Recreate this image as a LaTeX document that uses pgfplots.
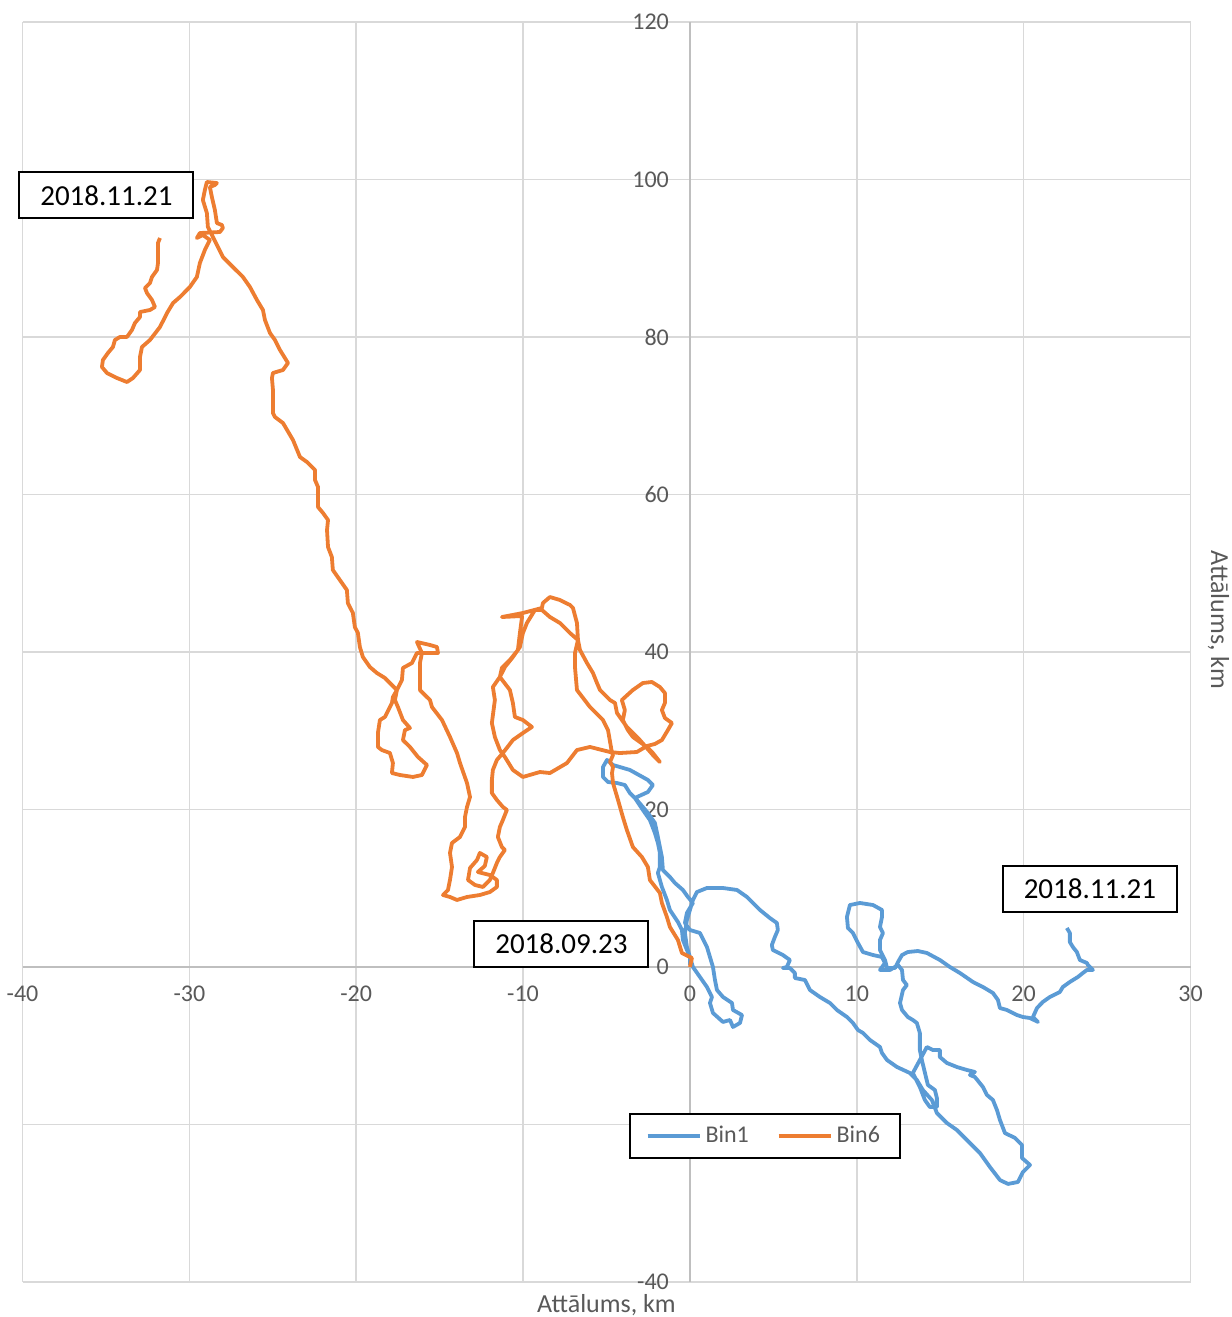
\documentclass[border=0pt]{standalone}
\usepackage{fontspec}
\setmainfont{Carlito}
\usepackage{pgfplots}
\pgfplotsset{compat=1.18}

\definecolor{binblue}{HTML}{5B9BD5}
\definecolor{binorange}{HTML}{ED7D31}
\definecolor{gridgray}{HTML}{D9D9D9}
\definecolor{axisgray}{HTML}{BFBFBF}
\definecolor{labgray}{HTML}{595959}

\begin{document}
\begin{tikzpicture}
\begin{axis}[
    name=ax,
    scale only axis,
    width=584pt, height=630pt,
    xmin=-40, xmax=30, ymin=-40, ymax=120,
    axis lines=middle,
    hide obscured x ticks=false, hide obscured y ticks=false,
    xtick={-40,-30,...,30}, ytick={-40,-20,...,120},
    grid=major,
    grid style={draw=gridgray, line width=0.8pt},
    major tick length=0pt,
    axis line style={draw=axisgray, line width=1pt, -},
    every inner x axis line/.append style={-},
    every inner y axis line/.append style={-},
    /pgf/number format/assume math mode=true,
    tick label style={font=\fontsize{12}{14}\selectfont, text=labgray},
    xticklabel style={yshift=-6pt},
    yticklabel style={xshift=-7pt},
    legend style={at={(axis cs:4.49,-21.46)}, anchor=center, draw=black, line width=1pt,
        fill=white, font=\fontsize{12}{14}\selectfont, text=labgray,
        inner xsep=8pt, inner ysep=4pt,
        /tikz/every even column/.append style={column sep=12pt}},
    legend columns=2,
    legend image code/.code={\draw[#1] (0pt,0pt) -- (26pt,0pt);},
    every axis plot/.append style={line width=1.9pt, line join=round},
]
% Bin1
\addplot[binblue] coordinates {
(0,0.25) (0,1.27) (-0.18,2.16) (-0.42,3.43) (-0.48,4.70) (-0.72,5.71) (-1.20,7.24) (-1.38,8.51)
(-1.68,10.16) (-1.92,11.94) (-1.80,12.70) (-1.80,14.48) (-1.92,15.75) (-2.10,17.02) (-2.40,18.67)
(-2.82,19.94) (-3.30,21.46) (-2.52,22.22) (-2.22,23.11) (-2.52,23.75) (-3.60,25.02) (-4.61,25.65)
(-4.97,26.29) (-5.21,25.40) (-5.21,24.13) (-4.91,23.49) (-4.37,23.36) (-3.90,23.11) (-3.60,22.09)
(-3.18,21.21) (-2.52,19.56) (-2.10,18.29) (-1.92,16.51) (-1.80,15.24) (-1.68,13.97) (-1.62,12.32)
(-1.20,11.43) (-0.90,10.67) (-0.42,9.78) (-0.12,8.89) (0.18,8.13) (-0.18,6.86) (-0.30,5.59)
(0,4.70) (0.60,4.32) (1.02,2.54) (1.20,1.27) (1.38,0) (1.50,-1.65) (1.62,-2.92) (1.98,-3.81)
(2.52,-4.57) (2.58,-5.46) (3.12,-6.10) (3.00,-7.11) (2.58,-7.62) (2.40,-6.73) (1.98,-6.98)
(1.38,-5.84) (1.20,-4.57) (1.32,-3.81) (1.02,-2.54) (0.60,-1.27) (0.18,0) (0,1.27) (-0.18,2.54)
(-0.30,4.32) (-0.18,5.97) (0,7.24) (0.18,8.51) (0.42,9.52) (1.02,10.03) (1.98,10.03) (2.82,9.78)
(3.42,8.89) (4.20,7.24) (4.79,6.22) (5.21,5.59) (5.27,4.70) (5.09,3.81) (4.91,2.79) (4.97,2.16)
(5.57,1.52) (5.99,0.89) (5.81,0) (5.57,-0.13) (5.99,-0.13) (6.29,-0.76) (6.29,-1.40) (6.89,-1.65)
(7.19,-2.92) (7.79,-3.81) (8.39,-4.57) (8.81,-5.46) (9.41,-6.35) (9.77,-7.11) (10.07,-8.00)
(10.37,-8.38) (10.79,-9.27) (11.39,-10.16) (11.51,-10.92) (11.81,-11.81) (12.41,-12.70)
(13.18,-13.46) (13.60,-14.35) (13.96,-15.62) (14.50,-16.89) (14.80,-18.54) (15.40,-19.81)
(16.00,-20.70) (16.60,-21.97) (17.38,-23.62) (17.98,-25.40) (18.58,-27.05) (19.06,-27.55)
(19.66,-27.30) (19.96,-26.03) (20.38,-25.14) (19.90,-24.25) (19.90,-22.60) (19.48,-21.71)
(18.88,-21.08) (18.58,-19.43) (18.40,-18.16) (18.16,-16.89) (17.80,-16.25) (17.56,-15.24)
(17.08,-13.97) (16.78,-13.71) (17.08,-13.33) (16.60,-13.08) (16.00,-12.70) (15.40,-12.19)
(14.98,-11.43) (14.98,-10.54) (14.56,-10.54) (14.20,-10.16) (13.78,-11.81) (13.36,-13.46)
(13.78,-15.24) (14.08,-16.89) (14.38,-17.78) (14.80,-17.78) (14.80,-16.63) (14.68,-15.62)
(14.26,-14.98) (13.90,-11.81) (13.78,-10.54) (13.78,-9.65) (13.78,-8.38) (13.60,-7.11)
(13.36,-6.73) (13.06,-6.35) (12.71,-5.46) (12.59,-4.57) (12.77,-2.92) (13.00,-2.29) (12.77,-1.65)
(12.71,-0.38) (12.47,0.25) (11.99,-0.38) (11.39,-0.38) (11.69,0.51) (11.51,1.27) (10.97,1.52)
(10.37,1.90) (10.07,3.05) (9.77,4.32) (9.47,4.95) (9.41,6.35) (9.59,7.87) (10.19,8.13)
(10.97,7.87) (11.51,7.24) (11.51,6.35) (11.39,5.08) (11.57,4.32) (11.39,3.43) (11.39,2.16)
(11.69,0.89) (11.81,-0.13) (12.29,-0.13) (12.47,0.63) (12.71,1.52) (13.06,1.90) (13.66,2.03)
(14.20,1.78) (14.98,0.89) (15.58,0) (16.18,-0.76) (16.96,-1.90) (17.56,-2.54) (18.16,-3.30)
(18.46,-4.19) (18.58,-5.21) (19.00,-5.46) (19.60,-6.10) (19.96,-6.35) (20.38,-6.48) (20.86,-6.98)
(20.56,-6.35) (20.80,-5.21) (21.15,-4.44) (21.57,-3.81) (22.17,-3.17) (22.35,-2.54) (22.77,-1.90)
(23.25,-1.27) (23.55,-0.76) (23.79,-0.38) (24.15,-0.38) (23.85,0.25) (23.79,0.51) (23.37,0.89)
(23.19,1.90) (22.95,2.54) (22.77,3.17) (22.77,4.32) (22.59,4.95)
};
\addlegendentry{Bin1}
% Bin6
\addplot[binorange] coordinates {
(0,0) (0.12,1.14) (-0.24,1.52) (-0.48,1.78) (-0.72,3.43) (-1.20,5.08) (-1.38,6.35) (-1.68,8.13)
(-1.80,9.40) (-2.40,11.05) (-2.52,12.70) (-2.88,13.97) (-3.42,15.24) (-3.78,17.40) (-4.02,19.05)
(-4.31,21.21) (-4.61,23.36) (-4.67,24.63) (-4.61,25.40) (-4.79,26.03) (-4.61,26.92) (-4.67,27.17)
(-4.91,30.09) (-5.21,31.36) (-5.99,33.01) (-6.77,35.17) (-6.89,38.09) (-6.89,39.87) (-6.71,41.52)
(-6.77,43.68) (-7.01,45.59) (-7.19,45.97) (-7.79,46.60) (-8.39,46.98) (-8.81,46.22) (-8.87,45.59)
(-10.01,44.95) (-11.27,44.44) (-10.07,44.57) (-10.07,44.32) (-10.19,42.41) (-10.31,40.25)
(-10.79,38.98) (-11.27,37.97) (-11.39,36.83) (-11.81,35.55) (-11.69,33.90) (-11.87,30.98)
(-11.69,29.21) (-11.39,27.55) (-11.09,26.67) (-10.61,25.02) (-10.01,24.13) (-8.99,24.76)
(-8.39,24.63) (-7.37,25.90) (-6.77,27.55) (-5.99,27.94) (-4.79,27.30) (-4.20,27.17) (-3.18,27.30)
(-2.58,28.06) (-2.10,28.32) (-1.68,28.82) (-1.32,30.09) (-1.08,30.98) (-1.50,31.62) (-1.68,32.63)
(-1.50,33.52) (-1.50,34.79) (-1.80,35.55) (-2.28,36.19) (-2.82,36.06) (-3.42,35.17) (-4.08,33.90)
(-3.90,32.63) (-4.02,31.36) (-3.72,30.09) (-3.42,29.21) (-3.00,28.57) (-2.58,27.94) (-2.22,27.17)
(-1.80,26.03) (-2.22,26.92) (-3.00,28.82) (-3.42,29.71) (-3.78,30.48) (-4.37,32.25) (-4.49,33.52)
(-4.79,33.90) (-5.39,35.17) (-5.57,36.06) (-5.81,37.33) (-6.17,38.60) (-6.59,40.25) (-6.71,41.52)
(-7.19,42.41) (-7.79,43.68) (-8.39,44.44) (-8.87,45.33) (-9.29,45.33) (-9.77,43.68) (-10.01,42.41)
(-10.19,40.63) (-10.61,39.36) (-11.09,38.09) (-11.39,36.83) (-10.79,35.17) (-10.61,33.52)
(-10.49,31.75) (-10.01,31.36) (-9.47,30.48) (-10.01,29.71) (-10.61,28.82) (-11.21,27.17)
(-11.57,26.29) (-11.81,25.02) (-11.87,23.75) (-11.87,22.09) (-11.57,21.21) (-11.21,20.32)
(-10.97,19.94) (-11.21,18.67) (-11.39,17.78) (-11.51,16.51) (-11.27,15.24) (-11.09,14.86)
(-11.39,13.97) (-11.57,13.21) (-11.81,11.94) (-11.99,11.05) (-12.41,10.16) (-12.88,10.41)
(-13.30,11.05) (-13.18,12.57) (-12.76,13.59) (-12.59,14.48) (-12.17,13.97) (-12.29,12.83)
(-12.71,12.06) (-11.99,11.68) (-11.57,11.05) (-11.57,10.16) (-11.99,9.52) (-12.59,9.14)
(-13.36,8.89) (-13.96,8.51) (-14.38,8.89) (-14.80,9.14) (-14.50,9.78) (-14.38,11.05) (-14.26,12.70)
(-14.38,14.48) (-14.26,15.75) (-13.78,16.51) (-13.48,17.78) (-13.48,19.05) (-13.36,20.32)
(-13.18,21.59) (-13.36,23.36) (-13.78,25.90) (-13.96,27.17) (-14.38,29.21) (-14.86,31.36)
(-15.46,33.01) (-15.58,33.90) (-16.18,35.17) (-16.18,36.82) (-16.18,38.60) (-16.06,39.87)
(-16.36,41.27) (-15.58,40.89) (-15.16,40.63) (-15.10,39.87) (-16.00,39.87) (-16.36,39.87)
(-16.66,38.60) (-17.20,37.97) (-17.26,36.44) (-17.56,35.17) (-17.68,33.90) (-17.50,33.01)
(-17.20,31.36) (-16.78,30.35) (-17.08,30.09) (-17.20,28.82) (-16.78,27.94) (-16.30,26.67)
(-15.76,25.65) (-16.06,24.38) (-16.60,24.13) (-17.38,24.38) (-17.86,24.63) (-17.80,25.90)
(-17.98,27.17) (-18.46,27.55) (-18.70,27.94) (-18.70,29.71) (-18.58,31.36) (-18.28,31.75)
(-17.86,33.52) (-17.80,34.28) (-17.56,35.17) (-18.28,36.70) (-18.76,37.33) (-19.18,38.09)
(-19.60,39.36) (-19.78,40.63) (-19.90,42.41) (-20.08,43.17) (-20.20,44.95) (-20.50,46.22)
(-20.56,47.87) (-20.98,49.14) (-21.40,50.41) (-21.46,52.06) (-21.69,53.33) (-21.75,55.49)
(-21.69,56.76) (-21.99,57.65) (-22.29,58.41) (-22.29,60.95) (-22.47,61.84) (-22.47,63.11)
(-22.95,64.12) (-23.37,64.76) (-23.79,66.92) (-24.39,69.08) (-24.87,69.84) (-24.99,70.35)
(-24.99,73.27) (-25.05,74.79) (-24.99,75.43) (-24.39,75.81) (-24.09,76.70) (-24.57,78.35)
(-24.87,79.62) (-25.17,80.51) (-25.47,82.16) (-25.59,83.43) (-25.95,84.70) (-26.37,86.35)
(-26.79,87.62) (-27.39,88.89) (-27.99,90.16) (-28.29,91.43) (-28.59,92.70) (-28.89,93.97)
(-28.95,95.74) (-29.19,97.39) (-29.07,98.66) (-28.95,99.68) (-28.35,99.55) (-28.47,99.30)
(-28.77,99.04) (-28.65,97.77) (-28.47,96.12) (-28.35,94.47) (-28.05,94.22) (-27.99,93.84)
(-28.17,93.33) (-29.37,93.20) (-29.55,92.57) (-29.19,92.95) (-28.77,92.32) (-29.07,91.05)
(-29.37,89.39) (-29.55,87.62) (-29.97,86.35) (-30.56,85.08) (-30.98,84.31) (-31.34,83.04)
(-31.76,81.27) (-32.36,79.62) (-32.84,78.73) (-32.96,77.46) (-32.96,75.81) (-33.38,74.79)
(-33.74,74.28) (-34.34,74.79) (-34.94,75.43) (-35.24,76.19) (-35.18,77.08) (-34.88,77.97)
(-34.58,78.73) (-34.46,79.62) (-34.16,80.00) (-33.74,80.00) (-33.44,80.89) (-33.26,81.78)
(-32.96,82.54) (-32.96,83.17) (-32.36,83.43) (-32.06,83.81) (-32.24,84.70) (-32.54,85.58)
(-32.66,86.22) (-32.36,86.85) (-32.24,87.62) (-31.94,88.51) (-31.88,89.39) (-31.88,90.67)
(-31.88,91.94) (-31.76,92.57)
};
\addlegendentry{Bin6}
\coordinate (d1) at (axis cs:-34.97,97.97);
\coordinate (d2) at (axis cs:-7.70,2.92);
\coordinate (d3) at (axis cs:23.97,9.90);
\end{axis}
\tikzset{datebox/.style={draw=black, line width=1pt, fill=white, text=black,
    minimum width=87pt, minimum height=23pt, inner sep=0pt,
    font=\fontsize{14.5}{17}\selectfont}}
\node[datebox] at (d1) {2018.11.21};
\node[datebox] at (d2) {2018.09.23};
\node[datebox] at (d3) {2018.11.21};
\node[inner sep=0pt, text=labgray, font=\fontsize{13}{15}\selectfont] at ([yshift=-11.5pt]ax.south) {Attālums, km};
\node[inner sep=0pt, text=labgray, font=\fontsize{13}{15}\selectfont, rotate=-90] at ([xshift=14pt,yshift=16pt]ax.east) {Attālums, km};
\path ([xshift=-11pt,yshift=-17.5pt]ax.south west) rectangle ([xshift=20.5pt,yshift=11pt]ax.north east);
\end{tikzpicture}
\end{document}
